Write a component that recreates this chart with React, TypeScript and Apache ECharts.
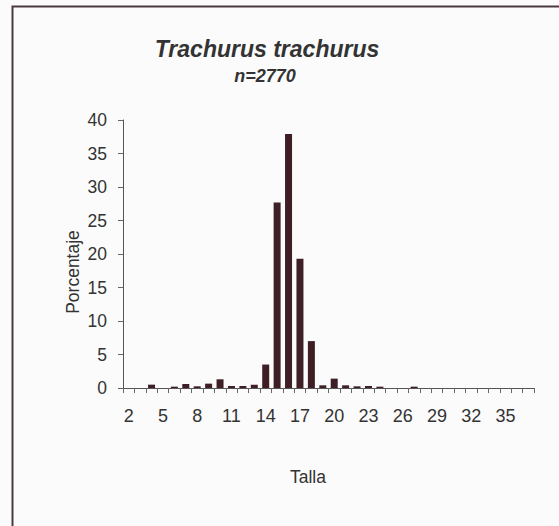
import React, { useEffect, useRef } from "react";
import * as echarts from "echarts";

const tallas: string[] = [];
for (let t = 2; t <= 37; t++) tallas.push(String(t));

// porcentaje por talla (2..37)
const porcentaje = [
  0, 0, 0.5, 0, 0.2, 0.6, 0.25, 0.65, 1.3, 0.3, 0.3, 0.5,
  3.5, 27.7, 37.9, 19.3, 7.0, 0.4, 1.4, 0.4, 0.25, 0.3,
  0.2, 0, 0, 0.2, 0, 0, 0, 0, 0, 0, 0, 0, 0, 0,
];

const yTicks = [0, 5, 10, 15, 20, 25, 30, 35, 40];

const titleText = "Trachurus trachurus";
const subText = "n=2770";
const xName = "Talla";
const yName = "Porcentaje";

export default function App() {
  const ref = useRef<HTMLDivElement>(null);
  useEffect(() => {
    if (!ref.current) return;
    const chart = echarts.init(ref.current, undefined, { renderer: "svg" });
    const font = "'Liberation Sans', Arial, sans-serif";
    chart.setOption({
      animation: false,
      backgroundColor: "#fbfbfb",
      grid: { left: 123, top: 120, right: 25, bottom: 138, containLabel: false },
      xAxis: {
        type: "category",
        data: tallas,
        boundaryGap: true,
        axisLine: { lineStyle: { color: "#555", width: 1 } },
        axisTick: { show: true, length: 5, alignWithLabel: false, interval: 0, lineStyle: { color: "#666" } },
        axisLabel: { interval: 2, margin: 19, fontSize: 18, color: "#333", fontFamily: font },
      },
      yAxis: {
        type: "value",
        min: yTicks[0],
        max: yTicks[yTicks.length - 1],
        interval: 5,
        axisLine: { show: true, lineStyle: { color: "#555", width: 1 } },
        axisTick: { show: true, length: 5, lineStyle: { color: "#666" } },
        splitLine: { show: false },
        axisLabel: { margin: 16, fontSize: 17.5, color: "#333", fontFamily: font },
      },
      series: [
        {
          type: "bar",
          data: porcentaje,
          barWidth: 7,
          itemStyle: { color: "#3d1f25" },
        },
      ],
      graphic: [
        {
          type: "rect",
          shape: { x: 12.5, y: 6.5, width: 560, height: 530 },
          style: { fill: "none", stroke: "#4a3a3e", lineWidth: 2 },
          silent: true,
        },
        {
          type: "text",
          x: 267,
          y: 49,
          style: {
            text: titleText,
            font: `italic bold 23px ${font}`,
            fill: "#333",
            textAlign: "center",
            textVerticalAlign: "middle",
          },
        },
        {
          type: "text",
          x: 265,
          y: 76,
          style: {
            text: subText,
            font: `italic bold 18px ${font}`,
            fill: "#333",
            textAlign: "center",
            textVerticalAlign: "middle",
          },
        },
        {
          type: "text",
          x: 73,
          y: 272,
          rotation: Math.PI / 2,
          style: {
            text: yName,
            font: `17.5px ${font}`,
            fill: "#333",
            textAlign: "center",
            textVerticalAlign: "middle",
          },
        },
        {
          type: "text",
          x: 308,
          y: 477,
          style: {
            text: xName,
            font: `17.5px ${font}`,
            fill: "#333",
            textAlign: "center",
            textVerticalAlign: "middle",
          },
        },
      ],
    });
    return () => chart.dispose();
  }, []);
  return (
    <div
      ref={ref}
      style={{ position: "fixed", left: 0, top: 0, width: 559, height: 526 }}
    />
  );
}
